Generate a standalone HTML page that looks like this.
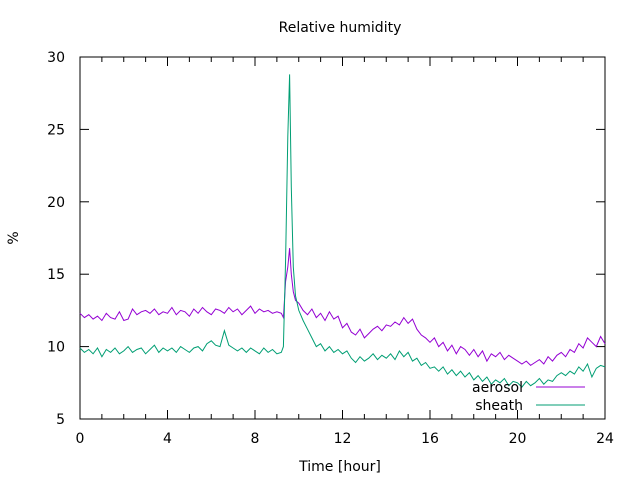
<!DOCTYPE html>
<html><head><meta charset="utf-8"><style>
body{margin:0;background:#fff}
svg{display:block;font-family:"DejaVu Sans","Liberation Sans",sans-serif}
</style></head><body>
<svg id="chart" width="640" height="480">
<text x="340" y="32" text-anchor="middle" font-size="14">Relative humidity</text>
<text x="13" y="243" text-anchor="middle" font-size="14" transform="rotate(-90 13 238)">%</text>
<text x="340" y="471" text-anchor="middle" font-size="14">Time [hour]</text>
<g id="axes"></g>
<g id="series"></g>
<g>
<text x="523" y="392" text-anchor="end" font-size="14">aerosol</text>
<line x1="536" y1="387" x2="585" y2="387" stroke="#9400d3"/>
<text x="523" y="410" text-anchor="end" font-size="14">sheath</text>
<line x1="536" y1="405" x2="585" y2="405" stroke="#009e73"/>
</g>
</svg>
<script>
const times=[0,0.2,0.4,0.6,0.8,1,1.2,1.4,1.6,1.8,2,2.2,2.4,2.6,2.8,3,3.2,3.4,3.6,3.8,4,4.2,4.4,4.6,4.8,5,5.2,5.4,5.6,5.8,6,6.2,6.4,6.6,6.8,7,7.2,7.4,7.6,7.8,8,8.2,8.4,8.6,8.8,9,9.2,
9.3,9.4,9.5,9.58,9.66,9.75,9.85,10,
10.2,10.4,10.6,10.8,11,11.2,11.4,11.6,11.8,12,12.2,12.4,12.6,12.8,13,13.2,13.4,13.6,13.8,14,14.2,14.4,14.6,14.8,15,15.2,15.4,15.6,15.8,16,16.2,16.4,16.6,16.8,17,17.2,17.4,17.6,17.8,18,18.2,18.4,18.6,18.8,19,19.2,19.4,19.6,19.8,20,20.2,20.4,20.6,20.8,21,21.2,21.4,21.6,21.8,22,22.2,22.4,22.6,22.8,23,23.2,23.4,23.6,23.8,24];
const aerosol=[12.3,12.0,12.2,11.9,12.1,11.8,12.3,12.0,11.9,12.4,11.8,11.9,12.6,12.2,12.4,12.5,12.3,12.6,12.2,12.4,12.3,12.7,12.2,12.5,12.4,12.1,12.6,12.3,12.7,12.4,12.2,12.6,12.5,12.3,12.7,12.4,12.6,12.2,12.5,12.8,12.3,12.6,12.4,12.5,12.3,12.4,12.3,
12.0,14.5,15.5,16.8,15.0,13.8,13.2,13.0,
12.5,12.2,12.6,12.0,12.3,11.8,12.4,11.9,12.1,11.3,
11.6,11.0,10.8,11.2,10.6,10.9,11.2,11.4,11.1,11.5,
11.4,11.7,11.5,12.0,11.6,11.9,11.2,10.8,10.6,10.3,
10.6,10.0,10.3,9.7,10.1,9.5,10.0,9.8,9.4,9.8,
9.3,9.7,9.0,9.5,9.3,9.6,9.1,9.4,9.2,9.0,
8.8,9.0,8.7,8.9,9.1,8.8,9.3,9.0,9.4,9.6,
9.3,9.8,9.6,10.2,9.9,10.6,10.3,10.0,10.7,10.2];
const sheath=[9.9,9.6,9.8,9.5,9.9,9.3,9.8,9.6,9.9,9.5,9.7,10.0,9.6,9.8,9.9,9.5,9.8,10.1,9.6,9.9,9.7,9.9,9.6,10.0,9.8,9.6,9.9,10.0,9.7,10.2,10.4,10.1,10.0,11.1,10.1,9.9,9.7,9.9,9.6,9.9,9.7,9.5,9.9,9.6,9.8,9.5,9.6,
10.0,16.0,24.5,28.8,21.0,15.5,13.5,12.5,
11.8,11.2,10.6,10.0,10.2,9.7,10.0,9.6,9.8,9.5,
9.7,9.2,8.9,9.3,9.0,9.2,9.5,9.1,9.4,9.2,
9.5,9.1,9.7,9.3,9.6,9.0,9.2,8.7,8.9,8.5,
8.6,8.3,8.6,8.1,8.4,8.0,8.3,7.9,8.2,7.7,
8.0,7.6,7.9,7.4,7.7,7.5,7.8,7.3,7.6,7.5,
7.2,7.6,7.3,7.5,7.8,7.4,7.7,7.6,8.0,8.2,
8.0,8.3,8.1,8.6,8.3,8.8,7.9,8.5,8.7,8.6];
const xTicks=[0,4,8,12,16,20,24];
const yTicks=[5,10,15,20,25,30];
const X0=80,X1=605,Y0=419,Y1=57;
const xs=v=>X0+(v-0)/24*(X1-X0);
const ys=v=>Y0-(v-5)/25*(Y0-Y1);
const NS="http://www.w3.org/2000/svg";
const axes=document.getElementById('axes');
function mk(tag,attrs,parent){const e=document.createElementNS(NS,tag);for(const k in attrs)e.setAttribute(k,attrs[k]);parent.appendChild(e);return e;}
const frame=mk('rect',{x:X0,y:Y1,width:X1-X0,height:Y0-Y1,fill:'none',stroke:'#000'},axes);


for(let h=0;h<=24;h++){
  const major=h%4===0,len=major?9:5,x=xs(h);
  const t1=mk('line',{x1:x,y1:Y0,x2:x,y2:Y0-len,stroke:'#000'},axes);
  
  
  const t2=mk('line',{x1:x,y1:Y1,x2:x,y2:Y1+len,stroke:'#000'},axes);
  
  
}
xTicks.forEach(v=>{
  const t=mk('text',{x:xs(v),y:443,'text-anchor':'middle','font-size':14},axes);
  t.textContent=v;
  
  
});
yTicks.forEach(v=>{
  const y=ys(v);
  const a=mk('line',{x1:X0,y1:y,x2:X0+9,y2:y,stroke:'#000'},axes);
  
  
  const b=mk('line',{x1:X1,y1:y,x2:X1-9,y2:y,stroke:'#000'},axes);
  
  
  const t=mk('text',{x:65,y:y+5,'text-anchor':'end','font-size':14},axes);
  t.textContent=v;
  
  
});
const sg=document.getElementById('series');
function line(vals,color,name){
  const pts=vals.map((v,i)=>xs(times[i]).toFixed(1)+','+ys(v).toFixed(1)).join(' ');
  const p=mk('polyline',{points:pts,fill:'none',stroke:color,'stroke-width':1},sg);
  
  
}
line(aerosol,'#9400d3','aerosol-line');
line(sheath,'#009e73','sheath-line');
</script>
</body></html>
